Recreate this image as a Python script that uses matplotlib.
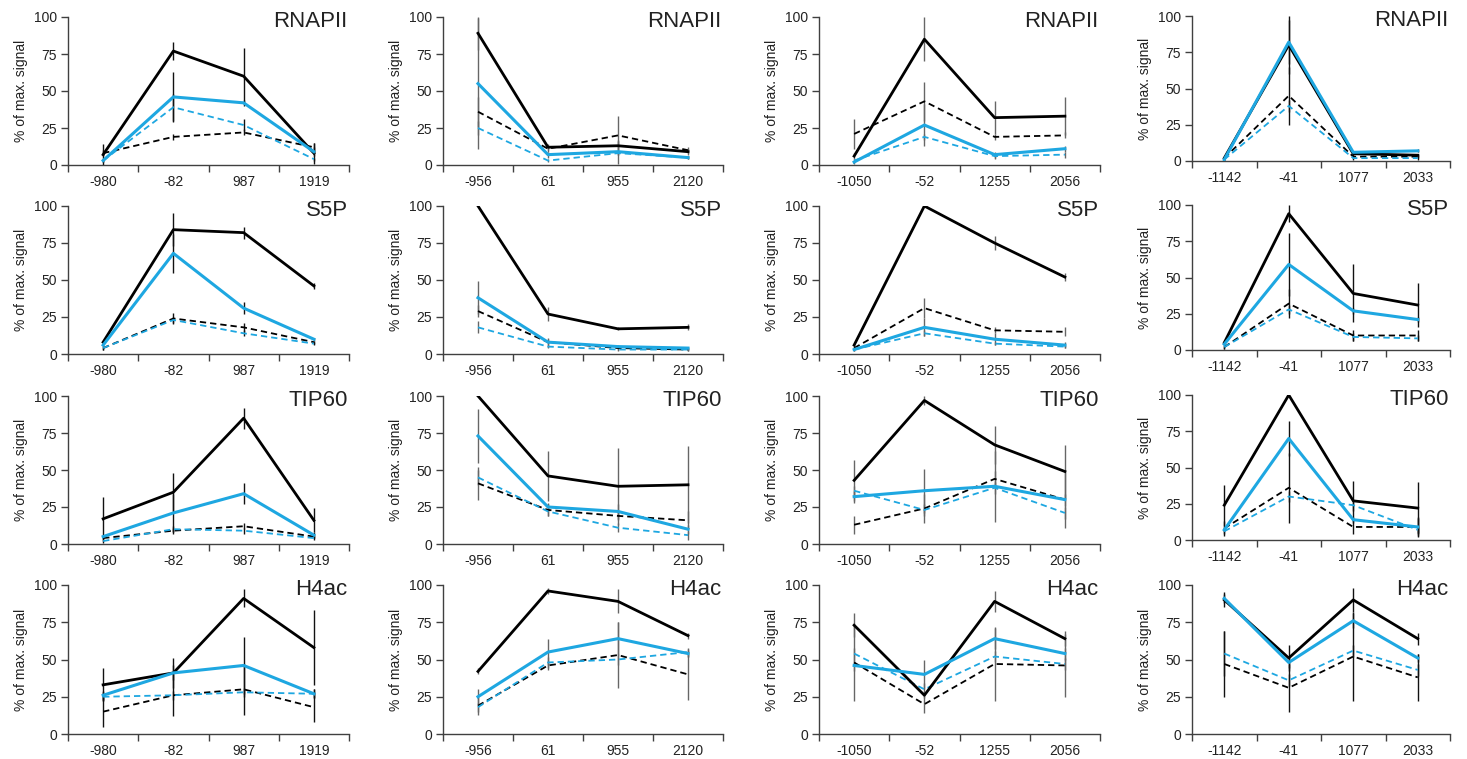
import numpy as np
import matplotlib
matplotlib.use("Agg")
import matplotlib.pyplot as plt

plt.rcParams['font.family'] = ['Liberation Sans', 'DejaVu Sans']

# ----------------------------
# data (rows = marker, cols = gene, 4 positions each)
# ----------------------------
markers = ["RNAPII", "S5P", "TIP60", "H4ac"]
positions = [
    ["-980", "-82", "987", "1919"],
    ["-956", "61", "955", "2120"],
    ["-1050", "-52", "1255", "2056"],
    ["-1142", "-41", "1077", "2033"],
]

# black solid
black_solid = [
    [[7, 77, 60, 8], [89, 12, 13, 9], [6, 85, 32, 33], [2, 80, 5, 4]],
    [[8, 84, 82, 46], [100, 27, 17, 18], [6, 100, 75, 52], [5, 94, 39, 31]],
    [[17, 35, 85, 16], [100, 46, 39, 40], [43, 97, 67, 49], [24, 100, 27, 22]],
    [[33, 41, 91, 58], [42, 96, 89, 66], [73, 26, 89, 64], [90, 51, 90, 64]],
]
black_solid_err = [
    [[7, 6, 19, 7], [11, 2, 3, 2], [2, 15, 11, 13], [1, 20, 2, 1]],
    [[1, 11, 4, 2], [0, 5, 1, 2], [1, 0, 5, 3], [1, 6, 20, 15]],
    [[15, 13, 7, 8], [0, 17, 26, 26], [14, 3, 13, 18], [14, 0, 14, 18]],
    [[11, 10, 6, 25], [2, 2, 8, 2], [8, 2, 7, 5], [5, 9, 8, 4]],
]
# blue solid
blue_solid = [
    [[3, 46, 42, 9], [55, 7, 9, 5], [2, 27, 7, 11], [1, 82, 6, 7]],
    [[6, 68, 31, 10], [38, 8, 5, 4], [3, 18, 10, 6], [4, 59, 27, 21]],
    [[5, 21, 34, 6], [73, 25, 22, 10], [32, 36, 39, 30], [7, 70, 14, 9]],
    [[26, 41, 46, 27], [25, 55, 64, 54], [46, 40, 64, 54], [91, 48, 76, 51]],
]
blue_solid_err = [
    [[1, 17, 2, 3], [44, 2, 8, 1], [1, 14, 2, 2], [1, 15, 1, 1]],
    [[1, 13, 4, 1], [11, 2, 1, 1], [1, 6, 4, 2], [1, 22, 2, 2]],
    [[1, 13, 7, 2], [18, 3, 5, 3], [4, 15, 24, 19], [1, 12, 2, 7]],
    [[3, 5, 19, 3], [5, 9, 11, 2], [4, 10, 7, 4], [3, 4, 5, 3]],
]
# black dashed
black_dashed = [
    [[8, 19, 22, 12], [36, 11, 20, 10], [21, 43, 19, 20], [2, 45, 3, 3]],
    [[4, 24, 18, 8], [29, 8, 4, 3], [4, 31, 16, 15], [2, 32, 10, 10]],
    [[4, 9, 12, 5], [41, 23, 19, 16], [13, 24, 44, 30], [8, 36, 9, 9]],
    [[15, 26, 30, 18], [19, 46, 53, 40], [48, 20, 47, 46], [47, 31, 52, 38]],
]
black_dashed_err = [
    [[2, 2, 2, 3], [10, 2, 13, 2], [10, 13, 2, 2], [1, 20, 1, 1]],
    [[1, 4, 3, 1], [4, 3, 1, 1], [1, 7, 2, 3], [1, 10, 4, 4]],
    [[1, 2, 2, 1], [11, 4, 3, 6], [6, 10, 5, 4], [5, 24, 5, 6]],
    [[10, 14, 17, 10], [6, 3, 22, 17], [26, 6, 25, 21], [22, 16, 30, 16]],
]
# blue dashed
blue_dashed = [
    [[3, 39, 27, 4], [25, 3, 8, 5], [3, 19, 6, 7], [1, 38, 2, 2]],
    [[4, 23, 14, 7], [18, 5, 3, 3], [3, 14, 7, 5], [2, 28, 9, 8]],
    [[2, 10, 9, 4], [45, 22, 11, 6], [36, 23, 38, 21], [6, 30, 24, 7]],
    [[25, 26, 28, 27], [18, 48, 50, 55], [54, 30, 52, 47], [54, 36, 56, 43]],
]
blue_dashed_err = [
    [[1, 9, 4, 1], [5, 1, 1, 1], [1, 2, 2, 2], [1, 4, 1, 1]],
    [[1, 2, 2, 1], [4, 1, 1, 1], [1, 2, 1, 1], [1, 3, 3, 2]],
    [[1, 2, 2, 1], [5, 3, 3, 3], [3, 4, 4, 4], [2, 4, 4, 2]],
    [[3, 3, 3, 3], [3, 4, 4, 3], [4, 4, 4, 4], [15, 4, 4, 4]],
]

BLUE = "#1ea7e1"
err_colors = ["#111111", "#666666", "#666666", "#111111"]

# ----------------------------
# layout (pixel based, 1467 x 759)
# ----------------------------
W, H = 1467, 759
col_left = [68, 443, 819, 1192]
col_right = [349, 723, 1100, 1450]
row_top = [17, 206, 396, 585]
row_bot = [165, 354, 544, 734]

fig = plt.figure(figsize=(W / 100, H / 100), dpi=100)

for r in range(4):
    for c in range(4):
        top, bot = row_top[r], row_bot[r]
        if c == 3 and r < 3:
            top -= 1
            bot -= 4
        ax = fig.add_axes([col_left[c] / W, 1 - bot / H,
                           (col_right[c] - col_left[c]) / W, (bot - top) / H])
        x = np.arange(4)
        series = [
            (black_dashed, black_dashed_err, "black", "--", 1.3),
            (blue_dashed, blue_dashed_err, BLUE, "--", 1.3),
            (black_solid, black_solid_err, "black", "-", 2.0),
            (blue_solid, blue_solid_err, BLUE, "-", 2.2),
        ]
        for vals, errs, col, ls, lw in series:
            y = np.array(vals[r][c])
            e = np.array(errs[r][c])
            ax.errorbar(x, y, yerr=e, fmt="none", ecolor=err_colors[c],
                        elinewidth=1.0, capsize=0, zorder=2)
        for vals, errs, col, ls, lw in series:
            y = np.array(vals[r][c])
            if ls == "--":
                ax.plot(x, y, color=col, lw=lw, linestyle=(0, (3.5, 2.2)), zorder=3)
            else:
                ax.plot(x, y, color=col, lw=lw, zorder=4)

        ax.set_xlim(-0.5, 3.5)
        ax.set_ylim(0, 100)
        ax.set_yticks([0, 25, 50, 75, 100])
        ax.set_xticks(x)
        ax.set_xticklabels(positions[c])
        ax.set_xticks([-0.5, 0.5, 1.5, 2.5, 3.5], minor=True)
        ax.tick_params(axis="x", which="major", length=0, pad=7,
                       labelsize=10, colors="#222222")
        ax.tick_params(axis="x", which="minor", length=5, direction="out",
                       color="#404040", width=1)
        ax.tick_params(axis="y", length=5, direction="out", color="#404040",
                       width=1, labelsize=10, labelcolor="#222222", pad=3)
        for s in ["top", "right"]:
            ax.spines[s].set_visible(False)
        for s in ["left", "bottom"]:
            ax.spines[s].set_color("#404040")
            ax.spines[s].set_linewidth(1.0)
        ax.set_ylabel("% of max. signal", fontsize=10, color="#222222", labelpad=4)
        ax.text(0.995, 1.04, markers[r], transform=ax.transAxes, ha="right",
                va="top", fontsize=16, color="#222222")

fig.savefig("out.png", dpi=100)
